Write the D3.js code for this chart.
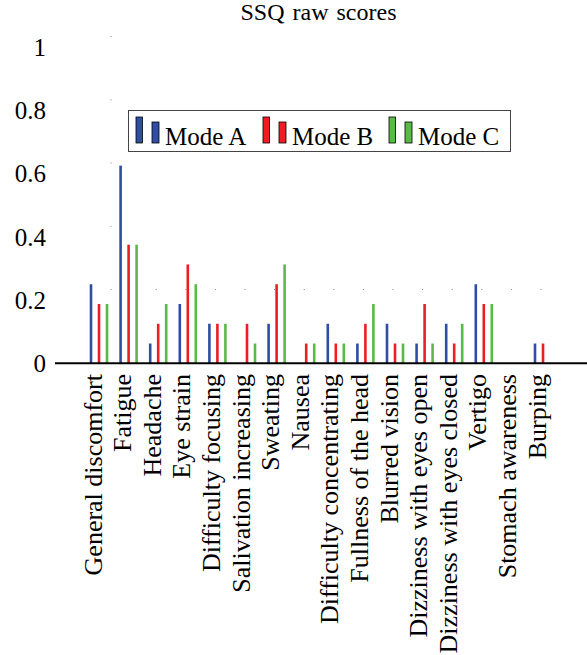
<html><head><script src="https://d3js.org/d3.v7.min.js"></script></head>
<body style="margin:0">
<script>
// ---------------  DATA  ---------------
const categories = [
  "General discomfort", "Fatigue", "Headache", "Eye strain", "Difficulty focusing",
  "Salivation increasing", "Sweating", "Nausea", "Difficulty concentrating",
  "Fullness of the head", "Blurred vision", "Dizziness with eyes open",
  "Dizziness with eyes closed", "Vertigo", "Stomach awareness", "Burping"
];
const modeA = [0.25, 0.625, 0.0625, 0.1875, 0.125, 0, 0.125, 0, 0.125, 0.0625, 0.125, 0.0625, 0.125, 0.25, 0, 0.0625];
const modeB = [0.1875, 0.375, 0.125, 0.3125, 0.125, 0.125, 0.25, 0.0625, 0.0625, 0.125, 0.0625, 0.1875, 0.0625, 0.1875, 0, 0.0625];
const modeC = [0.1875, 0.375, 0.1875, 0.25, 0.125, 0.0625, 0.3125, 0.0625, 0.0625, 0.1875, 0.0625, 0.0625, 0.125, 0.1875, 0, 0];
const seriesNames = ["Mode A", "Mode B", "Mode C"];
const yTicks = [0, 0.2, 0.4, 0.6, 0.8, 1];

const series = [modeA, modeB, modeC];
const colors = ["#2f4da3", "#ee1c25", "#5bb947"];
const serifFont = () => "'Liberation Serif'";

// ---------------  SIZING  ---------------
const w = 587, h = 655;
const svg = d3.select("body").append("svg").attr("width", w).attr("height", h);

const y = d3.scaleLinear().domain([0, 1]).range([363.3, 47]);
const x = d3.scalePoint().domain(categories).range([99, 99 + 29.6 * 15]);
const barOffset = 8, barWidth = 2.6;

// title
svg.append("text")
  .attr("x", 318.5).attr("y", 20)
  .attr("text-anchor", "middle")
  .style("font-family", serifFont)
  .style("font-size", "24px")
  .style("word-spacing", "2px")
  .text("SSQ raw scores");

// y tick labels
svg.append("g").selectAll("text")
  .data(yTicks).enter().append("text")
  .attr("x", 46).attr("y", d => y(d))
  .attr("dy", "0.35em")
  .attr("text-anchor", "end")
  .style("font-family", serifFont)
  .style("font-size", "25px")
  .text(d => d);

// faint tick dots (grid remnants)
svg.append("g").selectAll("rect")
  .data(yTicks.slice(1)).enter().append("rect")
  .attr("x", 110.5).attr("y", d => y(d) - 11)
  .attr("width", 1).attr("height", 1)
  .attr("fill", "#888");
svg.append("g").selectAll("rect")
  .data(categories.slice(2)).enter().append("rect")
  .attr("x", d => x(d) - 2.5).attr("y", y(0.2) - 11)
  .attr("width", 1).attr("height", 1)
  .attr("fill", "#888");

// bars (zero values are not drawn)
series.forEach((vals, s) => {
  const pts = vals.map((v, i) => ({ cat: categories[i], v: v })).filter(d => d.v > 0);
  svg.append("g").selectAll("rect")
    .data(pts).enter().append("rect")
    .attr("x", d => x(d.cat) + (s - 1) * barOffset - barWidth / 2)
    .attr("y", d => y(d.v))
    .attr("width", barWidth)
    .attr("height", d => y(0) - y(d.v))
    .attr("fill", colors[s]);
});

// x axis line
svg.append("line")
  .attr("x1", 55).attr("x2", w)
  .attr("y1", y(0)).attr("y2", y(0))
  .attr("stroke", "#000").attr("stroke-width", 2);

// category labels
svg.append("g").selectAll("text")
  .data(categories).enter().append("text")
  .attr("transform", d => "translate(" + (x(d) + 2.5) + "," + 374 + ") rotate(-90)")
  .attr("text-anchor", "end")
  .style("font-family", serifFont)
  .style("font-size", "26px")
  .text(d => d);

// legend
const legend = svg.append("g");
legend.append("rect")
  .attr("x", 128.5).attr("y", 110.5)
  .attr("width", 382).attr("height", 41)
  .attr("fill", "#fff").attr("stroke", "#444").attr("stroke-width", 1);
const entryX = [136, 263, 389];
seriesNames.forEach((name, s) => {
  legend.append("rect")
    .attr("x", entryX[s]).attr("y", 117)
    .attr("width", 6.5).attr("height", 26)
    .attr("fill", colors[s]).attr("stroke", "#000").attr("stroke-width", 0.8);
  legend.append("rect")
    .attr("x", entryX[s] + 16).attr("y", 122)
    .attr("width", 7).attr("height", 21)
    .attr("fill", colors[s]).attr("stroke", "#000").attr("stroke-width", 0.8);
  legend.append("text")
    .attr("x", entryX[s] + 29).attr("y", 145)
    .style("font-family", serifFont)
    .style("font-size", "25px")
    .text(name);
});
</script>
</body>
</html>
